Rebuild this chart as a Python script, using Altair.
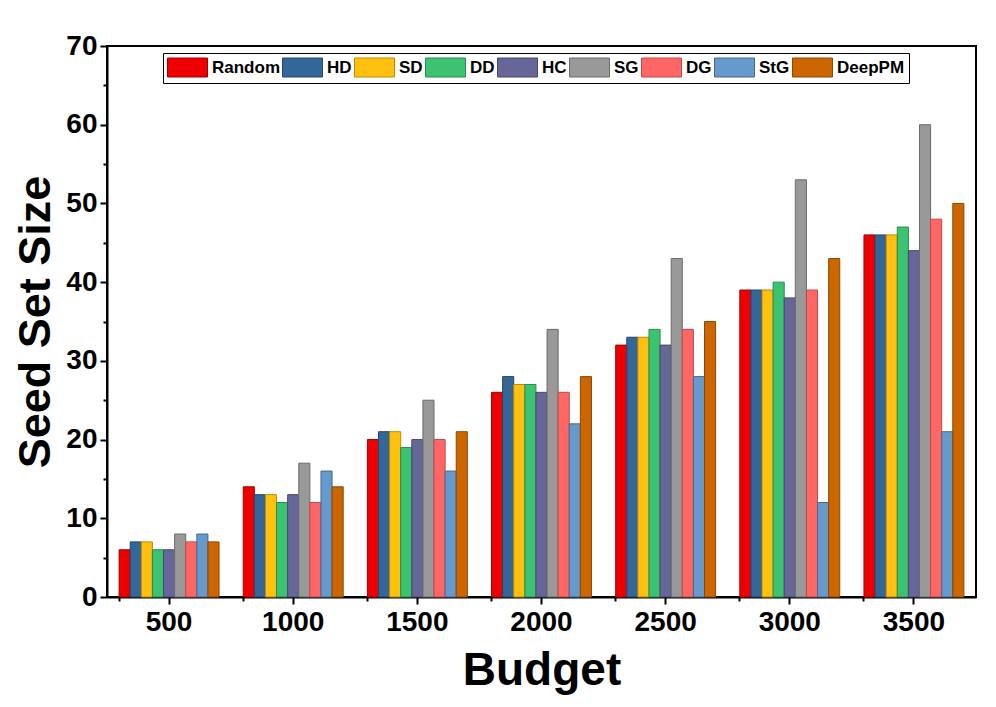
import altair as alt
import pandas as pd

budgets = ["500", "1000", "1500", "2000", "2500", "3000", "3500"]
methods = ["Random", "HD", "SD", "DD", "HC", "SG", "DG", "StG", "DeepPM"]

random_v = [6, 14, 20, 26, 32, 39, 46]
hd_v = [7, 13, 21, 28, 33, 39, 46]
sd_v = [7, 13, 21, 27, 33, 39, 46]
dd_v = [6, 12, 19, 27, 34, 40, 47]
hc_v = [6, 13, 20, 26, 32, 38, 44]
sg_v = [8, 17, 25, 34, 43, 53, 60]
dg_v = [7, 12, 20, 26, 34, 39, 48]
stg_v = [8, 16, 16, 22, 28, 12, 21]
deeppm_v = [7, 14, 21, 28, 35, 43, 50]

fill_colors = ["#EE0000", "#336699", "#FFC010", "#3CC372", "#666699",
               "#999999", "#FF6666", "#6699CC", "#CC6600"]
stroke_colors = ["#A00000", "#23476B", "#C08A00", "#2A8A50", "#47476B",
                 "#6B6B6B", "#C04848", "#47698F", "#8F4700"]

y_major = [0, 10, 20, 30, 40, 50, 60, 70]
y_minor = [5, 15, 25, 35, 45, 55, 65]

series = [random_v, hd_v, sd_v, dd_v, hc_v, sg_v, dg_v, stg_v, deeppm_v]
rows = []
for m, vals in zip(methods, series):
    for b, v in zip(budgets, vals):
        rows.append({"Budget": b, "Method": m, "Value": v})
df = pd.DataFrame(rows)

FONT = "Liberation Sans"

legend = alt.Legend(
    title=None, orient="none", legendX=56, legendY=7, direction="horizontal",
    columns=9, symbolType="M-1,-0.95L3,-0.95L3,0.95L-1,0.95Z", symbolSize=400,
    symbolStrokeWidth=1, labelFont=FONT, labelFontSize=17, labelFontWeight="bold",
    labelColor="black", labelOffset=24, columnPadding=0, padding=4,
    strokeColor="black", fillColor="white", symbolOpacity=1,
)

base = alt.Chart(df)

bars = base.mark_bar(strokeWidth=1).encode(
    x=alt.X("Budget:N", sort=budgets,
            scale=alt.Scale(paddingInner=0.195, paddingOuter=0.0975),
            axis=alt.Axis(title="Budget", orient="bottom", labelAngle=0, tickSize=7,
                          tickWidth=2, domainWidth=2, labelPadding=4, titlePadding=12)),
    xOffset=alt.XOffset("Method:N", sort=methods,
                        scale=alt.Scale(paddingInner=0, paddingOuter=0)),
    y=alt.Y("Value:Q", scale=alt.Scale(domain=[0, 70], nice=False),
            axis=alt.Axis(title="Seed Set Size", orient="left", values=y_major,
                          tickSize=7, tickWidth=2, domainWidth=2, labelPadding=3,
                          titlePadding=7, titleFontSize=45, grid=False)),
    color=alt.Color("Method:N", sort=methods,
                    scale=alt.Scale(domain=methods, range=fill_colors),
                    legend=legend),
    stroke=alt.Stroke("Method:N", sort=methods,
                      scale=alt.Scale(domain=methods, range=stroke_colors),
                      legend=legend),
)

minor = base.mark_bar(opacity=0).encode(
    x=alt.X("Budget:N", sort=budgets,
            axis=alt.Axis(title=None, orient="bottom", labels=False, bandPosition=0,
                          tickSize=4, tickWidth=2, domain=False)),
    y=alt.Y("Value:Q",
            axis=alt.Axis(title=None, orient="left", labels=False, values=y_minor,
                          tickSize=4, tickWidth=2, domain=False, grid=False)),
)

chart = alt.layer(bars, minor).resolve_axis(x="independent", y="independent").properties(
    width=869, height=551,
    autosize=alt.AutoSizeParams(type="none"),
    padding={"left": 99, "top": 38, "right": 12, "bottom": 100},
    background="white",
).configure_view(
    stroke="black", strokeWidth=2
).configure_axis(
    labelFont=FONT, labelFontSize=28, labelFontWeight="bold", labelColor="black",
    titleFont=FONT, titleFontSize=46, titleFontWeight="bold", titleColor="black",
    domainColor="black", tickColor="black",
)

chart.save("out.html", embed_options={"renderer": "svg", "actions": False})
